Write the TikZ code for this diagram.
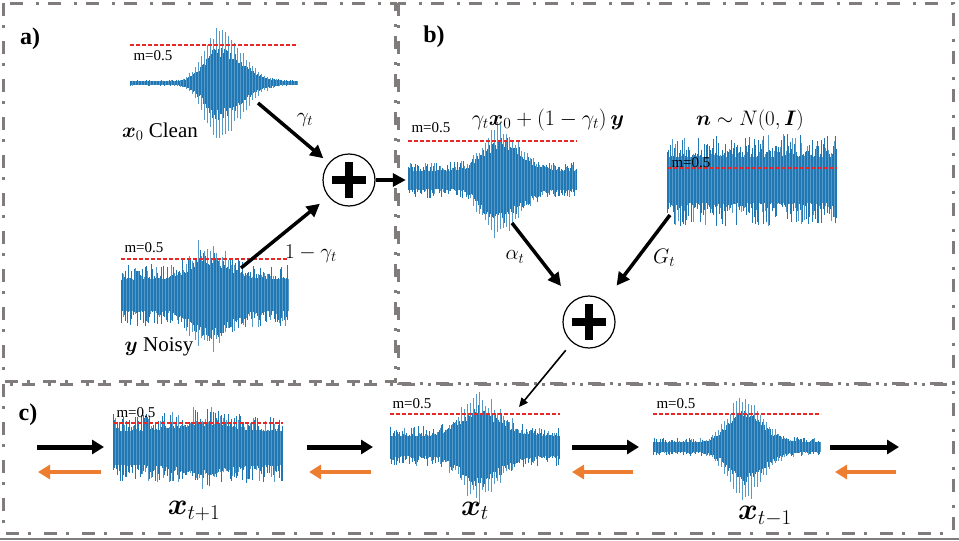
\RequirePackage{fix-cm}
\documentclass[tikz,border=0pt]{standalone}
\usepackage{amsmath}
\usepackage{bm}
\usepackage{fontspec}
\setmainfont{Liberation Serif}
\usepackage{tikz}
\usetikzlibrary{arrows.meta,positioning,calc}

\definecolor{wavecol}{RGB}{31,119,180}
\definecolor{framecol}{RGB}{128,124,124}
\definecolor{mcol}{RGB}{230,40,40}
\definecolor{arrorange}{RGB}{237,125,49}

% name, x from, x to, baseline, noise floor, speech peak, centre, left width, right width
\newcommand{\drawwave}[9]{%
  \foreach \k [count=\n] in {#2,#2.6,...,#3}{%
    \pgfmathsetmacro\sp{#6*exp(max(-1*(((\k-#7)/(\k<#7 ? #8 : #9))^2),-15))}%
    \pgfmathtruncatemacro\pul{mod(\n,5)==0 ? 1 : 0}%
    \pgfmathsetmacro\ra{rnd}\pgfmathsetmacro\rb{rnd}%
    \pgfmathsetmacro\rc{rnd}\pgfmathsetmacro\rd{rnd}%
    \pgfmathsetmacro\up{#5*(0.5+0.5*\ra*\ra*\ra)+\sp*(\pul*(0.8+0.2*\rc)+(1-\pul)*(0.4+0.25*\rc))}%
    \pgfmathsetmacro\dn{#5*(0.5+0.5*\rb*\rb*\rb)+\sp*(\pul*(0.85+0.2*\rd)+(1-\pul)*(0.4+0.25*\rd))}%
    \ifnum\pul=1
      \draw[wave,draw=wavecol!75] (\k,#4-\up) -- (\k,#4+\dn);
    \else
      \draw[wave] (\k,#4-\up) -- (\k,#4+\dn);
    \fi
  }%
  \pgfmathsetmacro\ww{#3-#2}%
  \node[wavebox,minimum width=\ww pt] (#1) at ({(#2+#3)/2},#4) {};
}

\begin{document}
\begin{tikzpicture}[x=1pt,y=-1pt,
  panel/.style={draw=framecol,line width=3pt,dash pattern=on 13pt off 9pt on 3pt off 13pt},
  wave/.style={draw=wavecol,line width=0.7pt},
  wavebox/.style={inner sep=0pt,minimum height=80pt},
  mline/.style={draw=mcol,line width=1.2pt,dash pattern=on 4pt off 2pt},
  mtext/.style={font=\fontsize{15}{17}\selectfont,inner sep=0pt},
  tag/.style={font=\fontsize{24}{28}\selectfont\bfseries},
  lbl/.style={font=\fontsize{21}{25}\selectfont},
  big/.style={font=\fontsize{30}{34}\selectfont},
  adder/.style={circle,draw,line width=1.2pt,minimum size=52pt,inner sep=0pt,
    path picture={
      \fill ([xshift=-17pt,yshift=-4pt]path picture bounding box.center) rectangle ([xshift=17pt,yshift=4pt]path picture bounding box.center);
      \fill ([xshift=-4pt,yshift=-18pt]path picture bounding box.center) rectangle ([xshift=4pt,yshift=18pt]path picture bounding box.center);}},
  to/.style={-{Triangle[length=13pt,width=13pt]},line width=3.5pt},
  thinto/.style={-{Triangle[length=9pt,width=8pt]},line width=1.6pt},
  fwd/.style={-{Triangle[length=12pt,width=14pt]},line width=5pt},
  bwd/.style={fwd,line width=4.5pt,color=arrorange}]

    \useasboundingbox (0,0) rectangle (959,541);

    % panel frames
    \draw[panel] (3,3) rectangle (395,381);
    \draw[panel] (398,3) rectangle (953,383);
    \draw[panel] (3,384) rectangle (953,533);
    \draw[framecol,line width=1.5pt] (0,539) -- (959,539);

    \node[tag] (tagA) at (30,39) {a)};
    \node[tag] (tagB) at (434,37) {b)};
    \node[tag] (tagC) at (28,415) {c)};

    % waveforms
    \pgfmathsetseed{11}
    \drawwave{clean}{130}{298}{83}{3}{54}{218}{20}{32}
    \pgfmathsetseed{23}
    \drawwave{noisy}{121}{289}{295}{31}{30}{208}{22}{28}
    \pgfmathsetseed{37}
    \drawwave{mixed}{408}{577}{180}{18}{45}{497}{20}{30}
    \pgfmathsetseed{41}
    \drawwave{noise}{667}{837}{180}{46}{0}{750}{30}{30}
    \pgfmathsetseed{53}
    \drawwave{xnext}{113}{283}{448}{34}{10}{205}{30}{30}
    \pgfmathsetseed{67}
    \drawwave{xcur}{390}{560}{446}{20}{40}{477}{22}{30}
    \pgfmathsetseed{71}
    \drawwave{xprev}{653}{821}{447}{9}{48}{742}{20}{28}

    % m=0.5 marks
    \draw[mline] (130,45) -- (298,45);
    \draw[mline] (121,259) -- (289,259);
    \draw[mline] (408,141) -- (577,141);
    \draw[mline] (667,168) -- (837,168);
    \draw[mline] (113,423) -- (283,423);
    \draw[mline] (390,414) -- (560,414);
    \draw[mline] (653,414) -- (821,414);
    \node[mtext] (mA) at (153,56) {m=0.5};
    \node[mtext] (mB) at (144,248) {m=0.5};
    \node[mtext] (mC) at (431,128) {m=0.5};
    \node[mtext] (mD) at (691,163) {m=0.5};
    \node[mtext] (mE) at (136,413) {m=0.5};
    \node[mtext] (mF) at (412,404) {m=0.5};
    \node[mtext] (mG) at (676,404) {m=0.5};

    % labels
    \node[lbl] (lclean) at (160,132) {$\bm{x}_0$ Clean};
    \node[lbl] (lnoisy) at (159,347) {$\bm{y}$ Noisy};
    \node[lbl] (lgam) at (305,120) {$\gamma_t$};
    \node[lbl] (lomg) at (311,254) {$1-\gamma_t$};
    \node[lbl,font=\fontsize{22}{26}\selectfont] (lmix) at (548,120) {$\gamma_t\bm{x}_0+(1-\gamma_t)\,\bm{y}$};
    \node[lbl] (lnoise) at (750,120) {$\bm{n}\sim N(0,\bm{I})$};
    \node[lbl] (lalpha) at (515,257) {$\alpha_t$};
    \node[lbl] (lgt) at (664,258) {$G_t$};
    \node[big] (lxnext) at (194,511) {$\bm{x}_{t+1}$};
    \node[big] (lxcur) at (475,511) {$\bm{x}_t$};
    \node[big] (lxprev) at (765,516) {$\bm{x}_{t-1}$};

    % adders
    \node[adder] (sumA) at (349,180) {};
    \node[adder] (sumB) at (589,322) {};

    \coordinate (fromclean) at (258,103);
    \coordinate (fromnoisy) at (241,268);
    \coordinate (frommixed) at (512,223);
    \coordinate (fromnoise) at (670,215);
    \coordinate (intoxt) at (519,407);

    \draw[to,shorten >=7pt] (fromclean) -- (sumA);
    \draw[to,shorten >=11pt] (fromnoisy) -- (sumA);
    \draw[to,shorten >=2pt] (sumA) -- (mixed.west);
    \draw[to,shorten >=19pt] (frommixed) -- (sumB);
    \draw[to,shorten >=19pt] (fromnoise) -- (sumB);
    \draw[thinto,shorten <=10pt] (sumB) -- (intoxt);

    % forward and reverse steps
    \foreach \a/\b [count=\i] in {37/104,307/373,572/639,830/899}{
        \coordinate (fs\i) at (\a,447);
        \coordinate (fe\i) at (\b,447);
        \draw[fwd] (fs\i) -- (fe\i);
    }
    \foreach \a/\b [count=\i] in {101/38,371/309,633/572,896/835}{
        \coordinate (bs\i) at (\a,472);
        \coordinate (be\i) at (\b,472);
        \draw[bwd] (bs\i) -- (be\i);
    }
\end{tikzpicture}
\end{document}
